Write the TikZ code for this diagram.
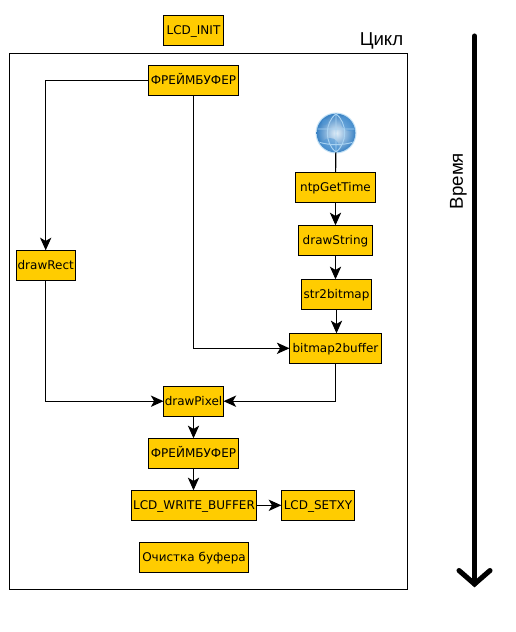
\documentclass[tikz,border=0pt]{standalone}
\usepackage{fontspec}
\setmainfont{DejaVu Sans}
\newfontfamily\labelfont{Liberation Sans}
\usetikzlibrary{arrows.meta}
\definecolor{boxfill}{HTML}{FFCC00}
\definecolor{globemid}{HTML}{4F97D6}
\definecolor{globedark}{HTML}{3A82C4}
\definecolor{globelite}{HTML}{E4EFF8}
\definecolor{globeline}{HTML}{A9D3F2}
\definecolor{globehalo}{HTML}{C4E2F6}
\tikzset{
  box/.style={draw=black,fill=boxfill,line width=0.8pt,inner sep=0pt,outer sep=0pt,minimum height=22.5pt,text height=7.5pt,text depth=1.5pt,font=\fontsize{9pt}{10pt}\selectfont},
  conn/.style={draw=black,line width=0.85pt,-{Stealth[length=9.5pt,width=8.5pt,inset=2.5pt]}},
  plain/.style={draw=black,line width=0.85pt},
  frameline/.style={draw=black,line width=0.8pt},
  bigtext/.style={font=\labelfont\fontsize{14pt}{16pt}\selectfont,inner sep=0pt},
  timeline/.style={draw=black,line width=3.8pt,line cap=round,line join=miter},
}
\begin{document}
\begin{tikzpicture}[x=0.75pt,y=-0.75pt]
\useasboundingbox (0,0) rectangle (516,632);
\fill[white] (0,0) rectangle (516,632);
\draw[frameline] (9.5,53.5) rectangle (407.5,589.5);
\node[box,minimum width=45pt] (init) at (193.5,30.5) {LCD\_INIT};
\node[box,minimum width=67.5pt] (fb1) at (193.5,80.3) {ФРЕЙМБУФЕР};
\node[box,minimum width=60pt] (ntp) at (335.5,187.3) {ntpGetTime};
\node[box,minimum width=55.5pt] (dstr) at (335.5,240.3) {drawString};
\node[box,minimum width=52.5pt] (s2b) at (336.5,294.3) {str2bitmap};
\node[box,minimum width=69pt] (b2b) at (335.5,348.3) {bitmap2buffer};
\node[box,minimum width=44.3pt] (rect) at (45.7,265.3) {drawRect};
\node[box,minimum width=45pt] (pix) at (193.5,401.2) {drawPixel};
\node[box,minimum width=67.5pt] (fb2) at (193.5,453.3) {ФРЕЙМБУФЕР};
\node[box,minimum width=94pt] (wb) at (194,505.3) {LCD\_WRITE\_BUFFER};
\node[box,minimum width=55pt] (xy) at (318,505.3) {LCD\_SETXY};
\node[box,minimum width=82pt] (clr) at (194,557.3) {Очистка буфера};
\fill[globehalo] (336,133) circle[radius=20.5];
\node[circle,minimum size=29pt,inner sep=0pt,outer sep=0pt,shading=radial,inner color=globelite,outer color=globedark] (globe) at (336,133) {};
\begin{scope}
\clip (336,133) circle[radius=19];
\fill[globemid,opacity=.55] (325,122) circle[radius=3] (350,122) circle[radius=9] (330,147) circle[radius=9];
\draw[globeline,line width=0.7pt] (globe.north) -- (globe.south)
  (316,129) -- (356,129) (318,142) to[bend right=15] (354,142)
  (globe.north) to[bend left=50] (globe.south) (globe.north) to[bend right=50] (globe.south);
\end{scope}
\node[bigtext] (cycle) at (381.5,40.5) {Цикл};
\node[bigtext,rotate=90] (timeword) at (458.5,181) {Время};
\coordinate (tstart) at (474.5,36);
\coordinate (tend) at (474.5,584);
\coordinate (tl) at (459,570.5);
\coordinate (tr) at (490,570.5);
\draw[timeline] (tstart) -- (tend);
\draw[timeline] (tl) -- (tend) -- (tr);
\draw[plain] (globe) -- (ntp);
\draw[conn] (ntp) -- (dstr);
\draw[conn] (dstr) -- (s2b.north -| dstr);
\draw[conn] (s2b) -- (s2b |- b2b.north);
\draw[conn] (fb1.west) -| (rect.north);
\draw[conn] (fb1.south) |- (b2b.west);
\draw[conn] (rect.south) |- (pix.west);
\draw[conn] (b2b.south) |- (pix.east);
\draw[conn] (pix) -- (fb2);
\draw[conn] (fb2) -- (wb.north -| fb2);
\draw[conn] (wb) -- (xy);
\end{tikzpicture}
\end{document}
